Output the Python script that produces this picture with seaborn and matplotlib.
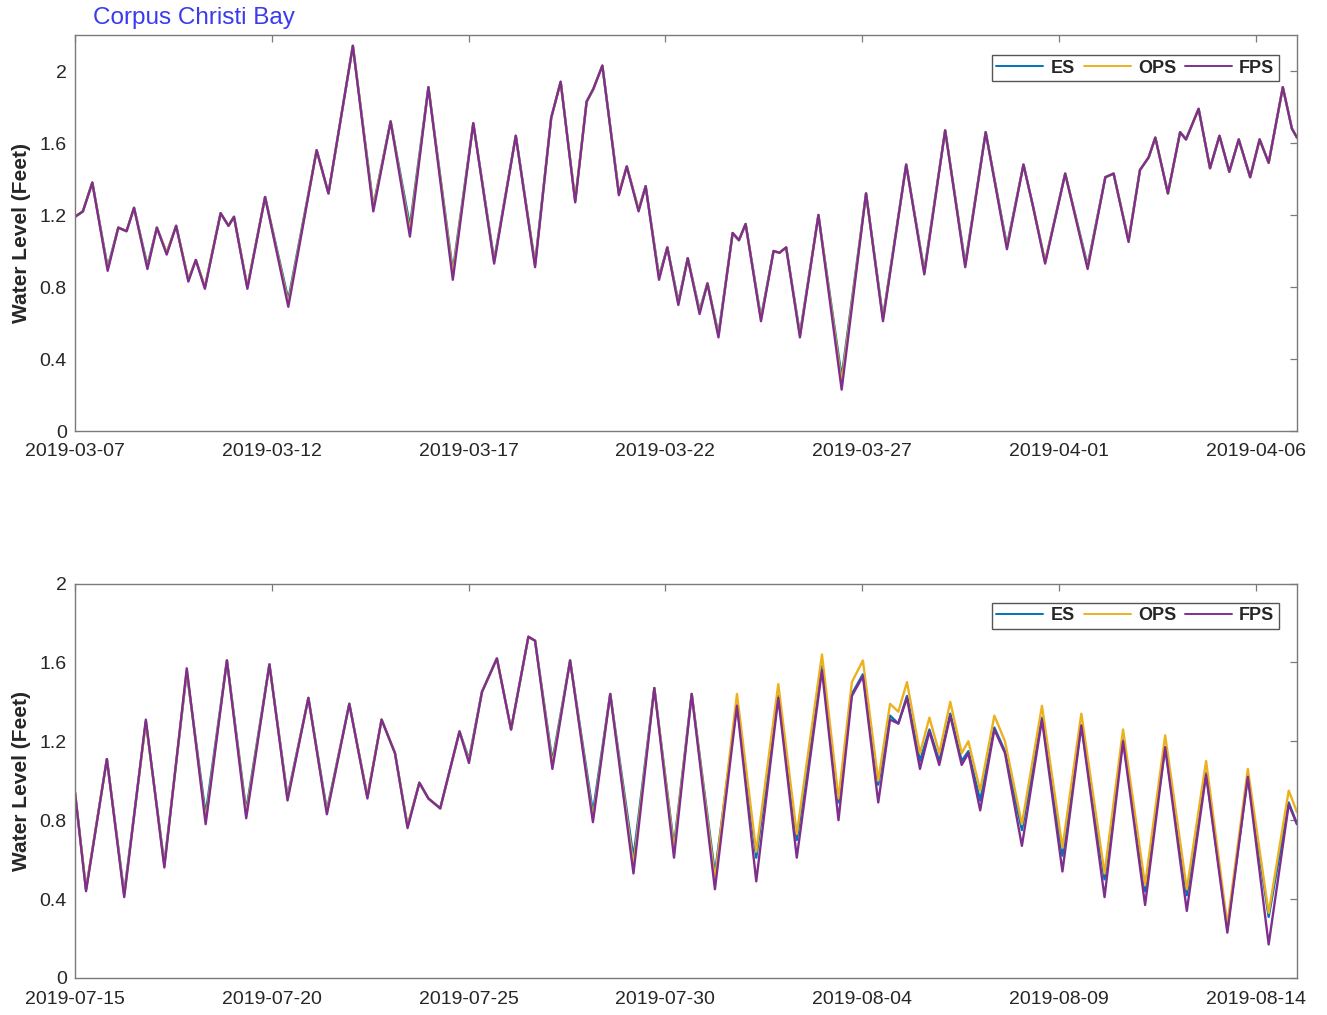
import numpy as np
import pandas as pd
import matplotlib
matplotlib.use("Agg")
import matplotlib.pyplot as plt
import matplotlib.dates as mdates
from matplotlib.ticker import FixedLocator, FuncFormatter
import seaborn as sns

# ---------------- data ----------------
series_names = ["ES", "OPS", "FPS"]
series_colors = ["#0072BD", "#EDB120", "#7E2F8E"]

top_start = "2019-03-07"
top_days = [0.00, 0.20, 0.44, 0.83, 1.10, 1.31, 1.50, 1.84, 2.08, 2.33,
            2.57, 2.88, 3.07, 3.30, 3.70, 3.90, 4.04, 4.38, 4.83, 5.42,
            6.14, 6.44, 7.06, 7.58, 8.02, 8.51, 8.98, 9.60, 10.12, 10.65,
            11.20, 11.69, 12.10, 12.34, 12.71, 13.00, 13.17, 13.40, 13.82, 14.02,
            14.32, 14.50, 14.84, 15.05, 15.33, 15.57, 15.87, 16.07, 16.35, 16.71,
            16.87, 17.04, 17.43, 17.75, 17.90, 18.07, 18.42, 18.89, 19.48, 20.10,
            20.53, 21.12, 21.58, 22.11, 22.62, 23.14, 23.68, 24.10, 24.33, 24.65,
            25.16, 25.73, 26.18, 26.39, 26.77, 27.06, 27.28, 27.45, 27.77, 28.08,
            28.23, 28.55, 28.84, 29.08, 29.33, 29.57, 29.86, 30.10, 30.33, 30.69,
            30.92, 31.05]
top_es = [1.19, 1.22, 1.38, 0.91, 1.13, 1.11, 1.24, 0.92, 1.13, 0.99,
          1.14, 0.84, 0.95, 0.80, 1.21, 1.14, 1.19, 0.80, 1.30, 0.73,
          1.56, 1.32, 2.14, 1.25, 1.72, 1.14, 1.91, 0.89, 1.71, 0.95,
          1.64, 0.93, 1.74, 1.94, 1.28, 1.83, 1.90, 2.03, 1.32, 1.47,
          1.23, 1.36, 0.86, 1.02, 0.72, 0.96, 0.67, 0.82, 0.54, 1.10,
          1.06, 1.15, 0.63, 1.00, 0.99, 1.02, 0.54, 1.20, 0.30, 1.32,
          0.63, 1.48, 0.89, 1.67, 0.93, 1.66, 1.03, 1.48, 1.26, 0.94,
          1.43, 0.92, 1.41, 1.43, 1.06, 1.45, 1.52, 1.63, 1.32, 1.66,
          1.62, 1.79, 1.46, 1.64, 1.44, 1.62, 1.41, 1.62, 1.49, 1.91,
          1.68, 1.63]
top_ops = [1.19, 1.22, 1.38, 0.90, 1.13, 1.11, 1.24, 0.91, 1.13, 0.99,
           1.14, 0.84, 0.95, 0.80, 1.21, 1.14, 1.19, 0.80, 1.30, 0.71,
           1.56, 1.32, 2.14, 1.24, 1.72, 1.11, 1.91, 0.87, 1.71, 0.94,
           1.64, 0.92, 1.74, 1.94, 1.28, 1.83, 1.90, 2.03, 1.32, 1.47,
           1.23, 1.36, 0.85, 1.02, 0.71, 0.96, 0.66, 0.82, 0.53, 1.10,
           1.06, 1.15, 0.62, 1.00, 0.99, 1.02, 0.53, 1.20, 0.27, 1.32,
           0.62, 1.48, 0.88, 1.67, 0.92, 1.66, 1.02, 1.48, 1.26, 0.94,
           1.43, 0.91, 1.41, 1.43, 1.06, 1.45, 1.52, 1.63, 1.32, 1.66,
           1.62, 1.79, 1.46, 1.64, 1.44, 1.62, 1.41, 1.62, 1.49, 1.91,
           1.68, 1.63]
top_fps = [1.19, 1.22, 1.38, 0.89, 1.13, 1.11, 1.24, 0.90, 1.13, 0.98,
           1.14, 0.83, 0.95, 0.79, 1.21, 1.14, 1.19, 0.79, 1.30, 0.69,
           1.56, 1.32, 2.14, 1.22, 1.72, 1.08, 1.91, 0.84, 1.71, 0.93,
           1.64, 0.91, 1.74, 1.94, 1.27, 1.83, 1.90, 2.03, 1.31, 1.47,
           1.22, 1.36, 0.84, 1.02, 0.70, 0.96, 0.65, 0.82, 0.52, 1.10,
           1.06, 1.15, 0.61, 1.00, 0.99, 1.02, 0.52, 1.20, 0.23, 1.32,
           0.61, 1.48, 0.87, 1.67, 0.91, 1.66, 1.01, 1.48, 1.26, 0.93,
           1.43, 0.90, 1.41, 1.43, 1.05, 1.45, 1.52, 1.63, 1.32, 1.66,
           1.62, 1.79, 1.46, 1.64, 1.44, 1.62, 1.41, 1.62, 1.49, 1.91,
           1.68, 1.63]

bot_start = "2019-07-15"
bot_days = [0.00, 0.28, 0.81, 1.25, 1.80, 2.27, 2.84, 3.32, 3.86, 4.35,
            4.94, 5.40, 5.93, 6.40, 6.97, 7.43, 7.79, 8.13, 8.45, 8.75,
            8.98, 9.28, 9.77, 10.01, 10.34, 10.72, 11.08, 11.52, 11.69, 12.13,
            12.58, 13.16, 13.60, 14.19, 14.72, 15.22, 15.67, 16.26, 16.82, 17.31,
            17.87, 18.34, 18.98, 19.40, 19.74, 20.02, 20.41, 20.71, 20.92, 21.14,
            21.47, 21.71, 21.96, 22.24, 22.53, 22.70, 23.00, 23.36, 23.63, 24.06,
            24.57, 25.09, 25.57, 26.16, 26.63, 27.19, 27.70, 28.25, 28.74, 29.28,
            29.80, 30.33, 30.84, 31.05]
bot_es = [0.94, 0.45, 1.11, 0.43, 1.30, 0.58, 1.55, 0.83, 1.61, 0.85,
          1.59, 0.92, 1.42, 0.85, 1.39, 0.92, 1.31, 1.14, 0.77, 0.99,
          0.91, 0.86, 1.25, 1.11, 1.45, 1.62, 1.26, 1.73, 1.71, 1.10,
          1.61, 0.84, 1.44, 0.61, 1.47, 0.67, 1.44, 0.53, 1.39, 0.61,
          1.43, 0.70, 1.58, 0.89, 1.44, 1.54, 0.98, 1.33, 1.29, 1.43,
          1.10, 1.26, 1.10, 1.34, 1.10, 1.15, 0.90, 1.27, 1.15, 0.75,
          1.32, 0.62, 1.28, 0.50, 1.21, 0.44, 1.17, 0.42, 1.04, 0.25,
          1.02, 0.31, 0.89, 0.78]
bot_ops = [0.94, 0.45, 1.11, 0.42, 1.30, 0.57, 1.56, 0.80, 1.61, 0.83,
           1.59, 0.91, 1.42, 0.84, 1.39, 0.92, 1.31, 1.14, 0.77, 0.99,
           0.91, 0.86, 1.25, 1.10, 1.45, 1.62, 1.26, 1.73, 1.71, 1.08,
           1.61, 0.81, 1.44, 0.57, 1.47, 0.65, 1.44, 0.50, 1.44, 0.64,
           1.49, 0.73, 1.64, 0.91, 1.50, 1.61, 1.00, 1.39, 1.35, 1.50,
           1.14, 1.32, 1.14, 1.40, 1.14, 1.20, 0.95, 1.33, 1.20, 0.78,
           1.38, 0.66, 1.34, 0.53, 1.26, 0.47, 1.23, 0.45, 1.10, 0.27,
           1.06, 0.33, 0.95, 0.84]
bot_fps = [0.94, 0.44, 1.11, 0.41, 1.31, 0.56, 1.57, 0.78, 1.61, 0.81,
           1.59, 0.90, 1.42, 0.83, 1.39, 0.91, 1.31, 1.14, 0.76, 0.99,
           0.91, 0.86, 1.25, 1.09, 1.45, 1.62, 1.26, 1.73, 1.71, 1.06,
           1.61, 0.79, 1.44, 0.53, 1.47, 0.61, 1.44, 0.45, 1.38, 0.49,
           1.42, 0.61, 1.56, 0.80, 1.43, 1.53, 0.89, 1.31, 1.29, 1.42,
           1.06, 1.25, 1.08, 1.33, 1.08, 1.14, 0.85, 1.26, 1.14, 0.67,
           1.31, 0.54, 1.28, 0.41, 1.20, 0.37, 1.17, 0.34, 1.03, 0.23,
           1.02, 0.17, 0.88, 0.78]

top_yticks = [0, 0.4, 0.8, 1.2, 1.6, 2.0]
bot_yticks = [0, 0.4, 0.8, 1.2, 1.6, 2.0]
title_text = "Corpus Christi Bay"
ylabel_text = "Water Level (Feet)"


def make_frame(start, days, es, ops, fps):
    t0 = pd.Timestamp(start)
    times = t0 + pd.to_timedelta(days, unit="D")
    frames = []
    for name, vals in zip(series_names, [es, ops, fps]):
        frames.append(pd.DataFrame({"time": times, "level": vals, "series": name}))
    return pd.concat(frames, ignore_index=True)


df_top = make_frame(top_start, top_days, top_es, top_ops, top_fps)
df_bot = make_frame(bot_start, bot_days, bot_es, bot_ops, bot_fps)

# ---------------- style ----------------
sns.set_theme(style="white")
plt.rcParams["font.family"] = ["Liberation Sans", "DejaVu Sans"]

W, H = 1327, 1015
fig = plt.figure(figsize=(W / 100, H / 100), dpi=100)
ax_top = fig.add_axes([75 / W, 1 - 431 / H, 1222 / W, 396 / H])
ax_bot = fig.add_axes([75 / W, 1 - 978 / H, 1222 / W, 394.5 / H])

palette = dict(zip(series_names, series_colors))
spine_c = "#7a7a7a"
txt_c = "#262626"


def style_axis(ax, df, start, yticks, ylim, leg_inset_y):
    sns.lineplot(data=df, x="time", y="level", hue="series", palette=palette,
                 hue_order=series_names, ax=ax, linewidth=1.7, sort=False,
                 estimator=None, legend=True)
    for ln in ax.get_lines():
        ln.set_solid_joinstyle("round")
    t0 = pd.Timestamp(start)
    ax.set_xlim(t0, t0 + pd.Timedelta(days=31.05))
    ax.set_ylim(*ylim)
    xt = pd.date_range(t0, periods=7, freq="5D")
    ax.xaxis.set_major_locator(FixedLocator(mdates.date2num(xt)))
    ax.xaxis.set_major_formatter(mdates.DateFormatter("%Y-%m-%d"))
    ax.yaxis.set_major_locator(FixedLocator(yticks))
    ax.yaxis.set_major_formatter(FuncFormatter(lambda v, p: f"{v:g}"))
    ax.tick_params(direction="in", length=5, width=0.9, color=spine_c,
                   top=True, right=True, labelsize=14, labelcolor=txt_c)
    ax.tick_params(axis="x", pad=9)
    ax.tick_params(axis="y", pad=6)
    for s in ax.spines.values():
        s.set_color(spine_c)
        s.set_linewidth(1.0)
    ax.set_xlabel("")
    ax.set_ylabel(ylabel_text, fontsize=15, fontweight="bold", color=txt_c)
    ax.yaxis.set_label_coords(-0.036, 0.5)
    h, l = ax.get_legend_handles_labels()
    leg = ax.legend(h, l, ncol=3, loc="upper right",
                    bbox_to_anchor=(1 - 18 / 1222, 1 - leg_inset_y),
                    frameon=True, fancybox=False, edgecolor="#555555",
                    framealpha=1, handlelength=2.6, handletextpad=0.4,
                    columnspacing=0.5, borderpad=0.25, borderaxespad=0,
                    prop={"weight": "bold", "size": 13})
    leg.get_frame().set_linewidth(1.0)
    for t in leg.get_texts():
        t.set_color(txt_c)
    for line in leg.get_lines():
        line.set_linewidth(1.4)


style_axis(ax_top, df_top, top_start, top_yticks, (0, 2.2), 20 / 396)
style_axis(ax_bot, df_bot, bot_start, bot_yticks, (0, 2.0), 19 / 394.5)

fig.text(93 / W, 1 - 18 / H, title_text, color="#3a3aee", fontsize=17.5,
         ha="left", va="center")

fig.savefig("out.png", dpi=100)
